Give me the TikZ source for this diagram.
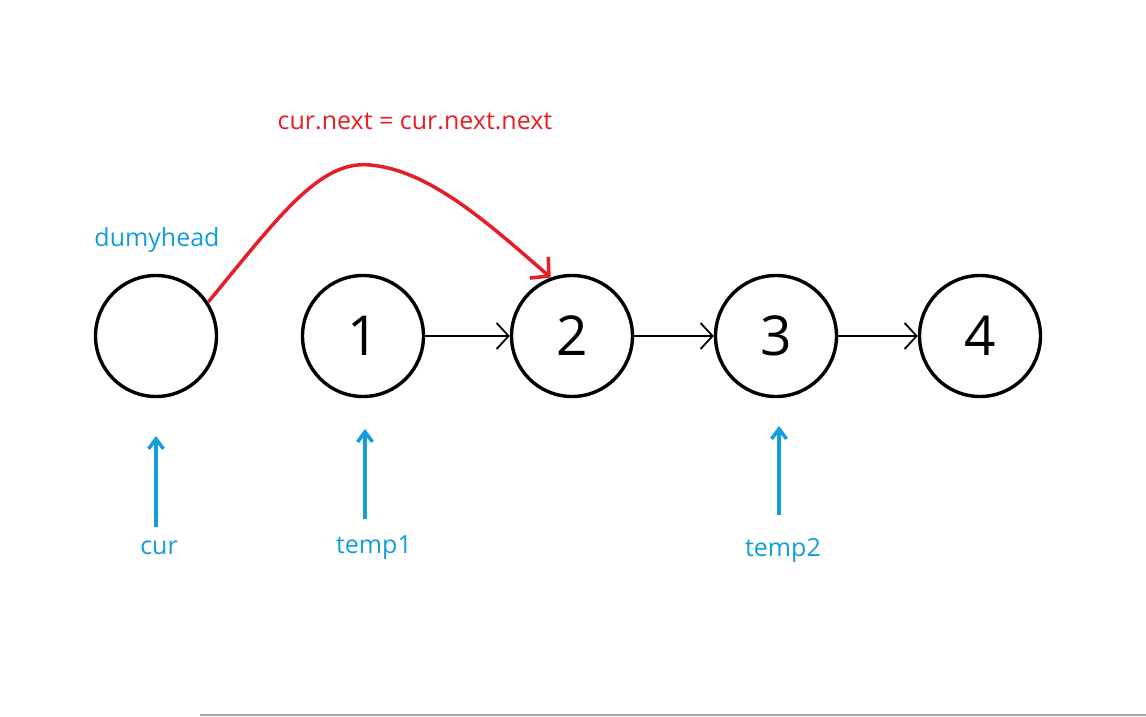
\documentclass[tikz,border=0pt]{standalone}
\usepackage{fontspec}
\setmainfont{Open Sans}
\usetikzlibrary{arrows.meta}
\definecolor{myred}{RGB}{230,30,40}
\definecolor{myblue}{RGB}{18,158,218}
\begin{document}
\begin{tikzpicture}[x=1pt,y=-1pt,
  listnode/.style={circle,draw=black,line width=3.4pt,minimum size=121pt,inner sep=0pt,font=\fontsize{55}{60}\selectfont},
  nextarrow/.style={line width=1.8pt,-{Straight Barb[length=12pt,width=26pt,line width=1.8pt]}},
  ptrarrow/.style={myblue,line width=4pt,-{Straight Barb[length=10pt,width=15pt,line width=3.5pt]}},
  ptrlabel/.style={text=myblue,font=\fontsize{25}{30}\selectfont,inner sep=1pt},
  redarrow/.style={myred,line width=3.5pt,-{Straight Barb[length=13pt,width=28pt,line width=3.5pt]}}]
\useasboundingbox (0,0) rectangle (1146,717);
\fill[white] (0,0) rectangle (1146,717);
\draw[gray!70,line width=1.5pt] (200,715) -- (1146,715);
\node[listnode] (d) at (156,336) {};
\node[listnode] (n1) at (363,336) {1};
\node[listnode] (n2) at (572,336) {2};
\node[listnode] (n3) at (776,336) {3};
\node[listnode] (n4) at (980,336) {4};
\draw[nextarrow] (n1) -- (n2);
\draw[nextarrow] (n2) -- (n3);
\draw[nextarrow] (n3) -- (n4);
\node[ptrlabel] (dh) at (157,240) {dumyhead};
\node[text=myred,font=\fontsize{25}{30}\selectfont] (lab) at (415,121) {cur.next = cur.next.next};
\draw[redarrow] (d.33) .. controls (280,215) and (320,160) .. (370,165) .. controls (430,170) and (490,225) .. (n2.110);
\node[ptrlabel] (cur) at (159,548) {cur};
\node[ptrlabel] (t1) at (374,548) {temp1};
\node[ptrlabel] (t2) at (783,550) {temp2};
\coordinate (curb) at (156,527);
\coordinate (curt) at (156,436);
\coordinate (t1b) at (365,519);
\coordinate (t1t) at (365,429);
\coordinate (t2b) at (779,515);
\coordinate (t2t) at (779,426);
\draw[ptrarrow] (curb) -- (curt);
\draw[ptrarrow] (t1b) -- (t1t);
\draw[ptrarrow] (t2b) -- (t2t);
\end{tikzpicture}
\end{document}
